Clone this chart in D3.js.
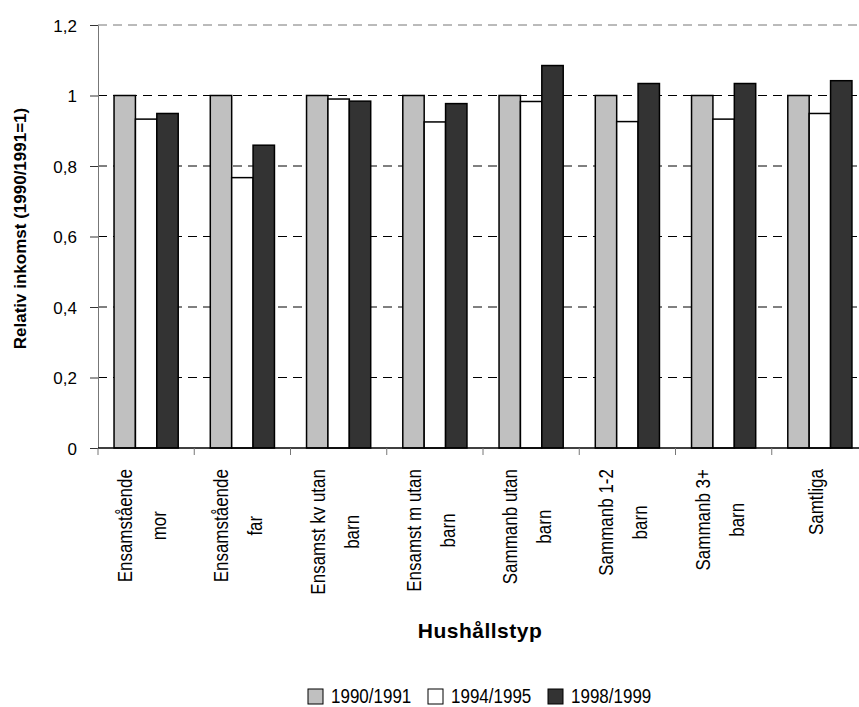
<!DOCTYPE html>
<html>
<head>
<meta charset="utf-8">
<title>Relativ inkomst per hushållstyp</title>
<script src="https://d3js.org/d3.v7.min.js"></script>
<style>
  body { margin: 0; background: #fff; }
  text { font-family: "Liberation Sans", Arial, sans-serif; fill: #000; }
</style>
</head>
<body>
<div id="chart"></div>
<script>
// data
const categories = [
  ["Ensamstående", "mor"],
  ["Ensamstående", "far"],
  ["Ensamst kv utan", "barn"],
  ["Ensamst m utan", "barn"],
  ["Sammanb utan", "barn"],
  ["Sammanb 1-2", "barn"],
  ["Sammanb 3+", "barn"],
  ["Samtliga"]
];
const series = ["1990/1991", "1994/1995", "1998/1999"];
const values1990 = [1, 1, 1, 1, 1, 1, 1, 1];
const values1994 = [0.933, 0.767, 0.990, 0.925, 0.983, 0.926, 0.933, 0.949];
const values1998 = [0.949, 0.859, 0.984, 0.977, 1.085, 1.034, 1.034, 1.042];
const yTicks = [0, 0.2, 0.4, 0.6, 0.8, 1, 1.2];
const fills = ["#c0c0c0", "#ffffff", "#333333"];

const width = 859, height = 707;
const plotLeft = 98, plotTop = 25, plotBottom = 448, plotRight = 868;

const svg = d3.select("#chart").append("svg")
  .attr("width", width)
  .attr("height", height);

const catKeys = categories.map(c => c.join(" "));
const x0 = d3.scaleBand().domain(catKeys).range([plotLeft, plotRight]).padding(0);
const x1 = d3.scaleBand().domain(series).range([0, x0.bandwidth()])
  .paddingInner(0).paddingOuter(0.75);
const y = d3.scaleLinear().domain([0, 1.2]).range([plotBottom, plotTop]);
const color = d3.scaleOrdinal().domain(series).range(fills);

// gridlines
svg.append("g").selectAll("line")
  .data(yTicks.filter(d => d > 0))
  .enter().append("line")
  .attr("x1", plotLeft).attr("x2", width)
  .attr("y1", d => y(d)).attr("y2", d => y(d))
  .attr("stroke", d => d === 1.2 ? "#777" : "#000")
  .attr("stroke-width", 1)
  .attr("stroke-dasharray", "9,6");

// y axis
const yAxis = d3.axisLeft(y).tickValues(yTicks).tickSize(8).tickSizeOuter(0).tickPadding(13)
  .tickFormat(d => String(d).replace(".", ","));
const gy = svg.append("g").attr("transform", `translate(${plotLeft},0)`).call(yAxis);
gy.select(".domain").attr("stroke", "#777");
gy.selectAll(".tick line").attr("stroke", "#333");
gy.selectAll(".tick text")
  .attr("font-size", 17)
  .attr("font-family", "Liberation Sans, Arial, sans-serif")
  .attr("dy", "0.36em");

// bars
const rows = catKeys.map((k, i) => ({
  key: k,
  vals: [values1990[i], values1994[i], values1998[i]]
}));
const groups = svg.append("g").selectAll("g")
  .data(rows)
  .enter().append("g")
  .attr("transform", d => `translate(${x0(d.key)},0)`);
groups.selectAll("rect")
  .data(d => d.vals.map((v, j) => ({ s: series[j], v: v })))
  .enter().append("rect")
  .attr("x", d => x1(d.s))
  .attr("width", x1.bandwidth())
  .attr("y", d => y(d.v))
  .attr("height", d => y(0) - y(d.v))
  .attr("fill", d => color(d.s))
  .attr("stroke", "#000")
  .attr("stroke-width", 1.5);

// x axis
const xAxis = d3.axisBottom(x0).tickSize(0).tickFormat("");
const gx = svg.append("g").attr("transform", `translate(0,${plotBottom})`).call(xAxis);
gx.select(".domain").remove();
gx.append("line").attr("x1", plotLeft).attr("x2", width)
  .attr("stroke", "#000").attr("stroke-width", 1.5);
gx.selectAll(".bound")
  .data(catKeys.map(k => x0(k)))
  .enter().append("line")
  .attr("class", "bound")
  .attr("x1", d => d).attr("x2", d => d)
  .attr("y1", 0).attr("y2", 7)
  .attr("stroke", "#777");

// category labels, rotated, lines centred on the longest line
const labelTop = 469, lineGap = 34;
categories.forEach((lines, i) => {
  const cx = x0(catKeys[i]) + x0.bandwidth() / 2;
  const n = lines.length;
  const g = svg.append("g");
  const texts = lines.map((ln, j) => {
    const base = cx + 3 + (j - (n - 1) / 2) * lineGap;
    return g.append("text")
      .attr("font-size", 17)
      .attr("text-anchor", "middle")
      .attr("data-base", base)
      .text(ln);
  });
  const L = d3.max(texts, t => t.node().getComputedTextLength());
  texts.forEach(t => {
    t.attr("transform", `translate(${t.attr("data-base")},${labelTop + L / 2}) rotate(-90) scale(1,1.2)`);
  });
});

// axis titles
svg.append("text")
  .attr("transform", `translate(480,638)`)
  .attr("text-anchor", "middle")
  .attr("font-size", 21)
  .attr("font-weight", "bold")
  .attr("letter-spacing", 0.5)
  .text("Hushållstyp");

svg.append("text")
  .attr("transform", `translate(26,${(plotTop + plotBottom) / 2 - 8}) rotate(-90)`)
  .attr("text-anchor", "middle")
  .attr("font-size", 17)
  .attr("font-weight", "bold")
  .text("Relativ inkomst (1990/1991=1)");

// legend
const lx = d3.scaleBand().domain(series).range([308, 668]);
const legend = svg.append("g").selectAll("g")
  .data(series)
  .enter().append("g")
  .attr("transform", d => `translate(${lx(d)},689)`);
legend.append("rect")
  .attr("width", 15).attr("height", 15)
  .attr("fill", d => color(d))
  .attr("stroke", "#000").attr("stroke-width", 1);
legend.append("text")
  .attr("transform", "translate(23,13.5) scale(1,1.15)")
  .attr("font-size", 17)
  .text(d => d);
</script>
</body>
</html>
